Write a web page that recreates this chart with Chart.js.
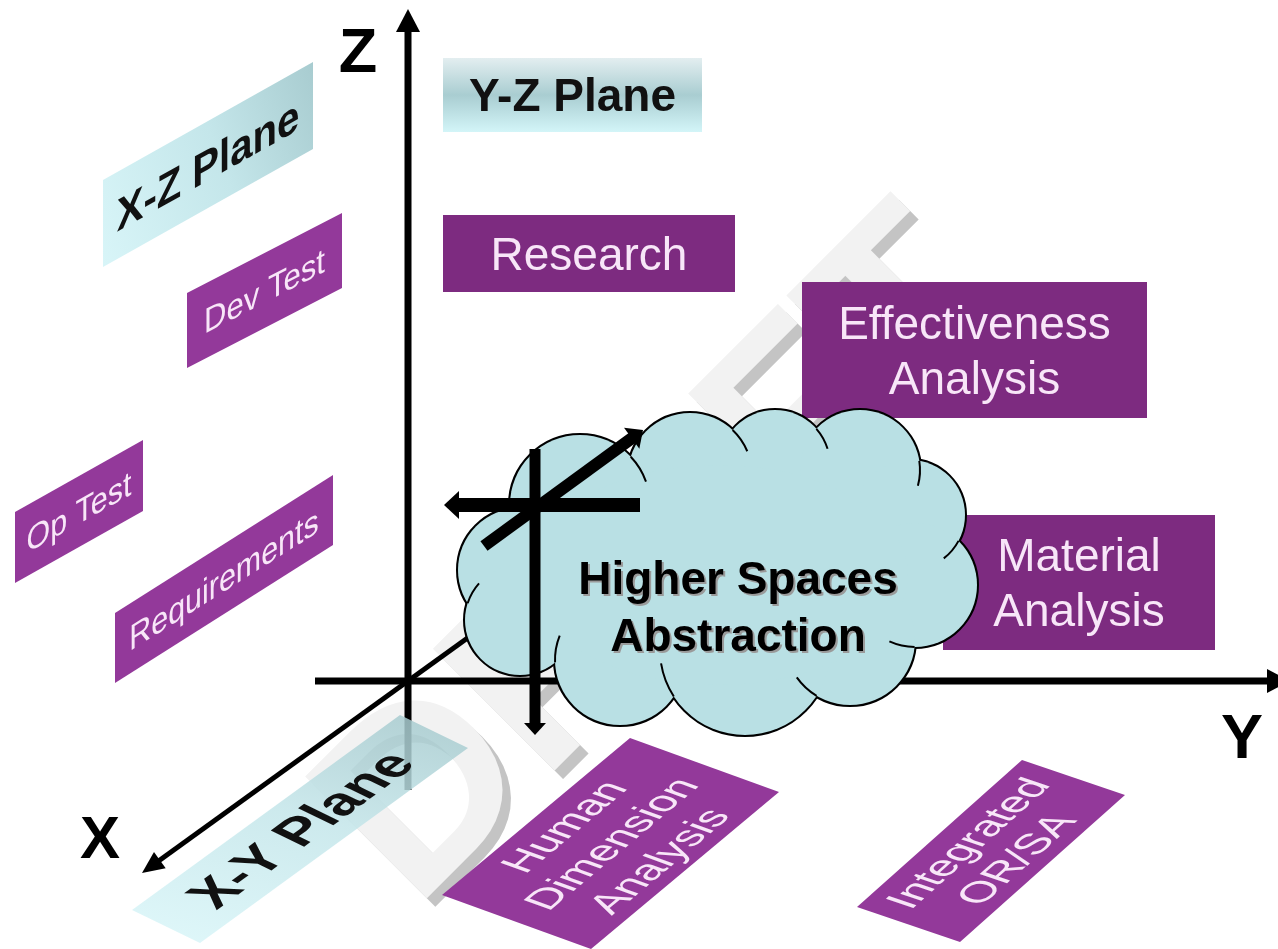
<!DOCTYPE html>
<html lang="en">
<head>
<meta charset="UTF-8">
<title>Higher Spaces Abstraction</title>
<script src="https://cdn.jsdelivr.net/npm/chart.js"></script>
<style>
  html, body { margin: 0; padding: 0; background: #fff; }
  #wrap { position: relative; width: 1278px; height: 949px; }
</style>
</head>
<body>
<div id="wrap"><canvas id="diagram"></canvas></div>
<script>
// The diagram sits on a 1278 x 949 grid, y growing downward
const gridWidth = 1278;
const gridHeight = 949;

// Main axes: where each shaft starts, where its arrow tip is, where its letter goes
const axisNames = ['Z', 'Y', 'X'];
const axisStart = [[408, 790], [315, 681], [480, 629]];
const axisTip = [[408, 9], [1290, 681], [142, 873]];
const axisNameAt = [[358, 72], [1242, 758], [100, 858]];

// Panels: text, one corner, the edge the text runs along, the edge across it
const panelText = ['Y-Z Plane', 'X-Z Plane', 'X-Y Plane', 'Research', 'Effectiveness\nAnalysis',
  'Material\nAnalysis', 'Dev Test', 'Op Test', 'Requirements', 'Human\nDimension\nAnalysis', 'Integrated\nOR/SA'];
const panelCorner = [[443, 58], [103, 180], [132, 910], [443, 215], [802, 282],
  [943, 515], [187, 293], [15, 512], [115, 613], [442, 895], [857, 907]];
const panelAlong = [[259, 0], [210, -118], [268, -195], [292, 0], [345, 0],
  [272, 0], [155, -80], [128, -72], [218, -138], [188, -157], [165, -147]];
const panelAcross = [[0, 74], [0, 87], [68, 33], [0, 77], [0, 136],
  [0, 135], [0, 75], [0, 71], [0, 70], [149, 54], [103, 35]];

// Cloud: lobes [cx, cy, r] going clockwise, and the core ellipse [cx, cy, rx, ry]
const cloudLobes = [[520, 570, 62], [580, 505, 70], [690, 475, 62], [775, 465, 55], [860, 470, 60],
  [910, 515, 55], [915, 585, 62], [850, 640, 65], [745, 650, 85], [620, 660, 65], [520, 620, 55]];
const cloudCore = [718, 575, 190, 110];
const cloudText = ['Higher Spaces', 'Abstraction'];
const cloudTextAt = [[738, 594], [738, 651]];

// Small axis icon inside the cloud: [from, tip]
const iconFrom = [[535, 449], [640, 505], [484, 546]];
const iconTip = [[535, 735], [444, 505], [643, 430]];

const watermark = 'DRAFT';
const watermarkAt = [415, 910];

const FONT = '"Liberation Sans", Arial, Helvetica, sans-serif';

// styles
const axisWidth = [7, 7, 5];
const axisHead = [[23, 12], [23, 12], [22, 10]];
const iconWidth = [11, 14, 12];
const iconHead = [[12, 11], [15, 14], [14, 13]];
const panelFont = [46, 46, 54, 46, 46, 46, 35, 35, 36, 42, 42];

function shaftEnd(from, tip, headLen) {
  const dx = tip[0] - from[0], dy = tip[1] - from[1];
  const d = Math.hypot(dx, dy);
  return { x: tip[0] - dx / d * (headLen - 2), y: tip[1] - dy / d * (headLen - 2) };
}

function arrowHead(ctx, from, tip, len, half) {
  const dx = tip.x - from.x, dy = tip.y - from.y, d = Math.hypot(dx, dy);
  const ux = dx / d, uy = dy / d;
  const bx = tip.x - ux * len, by = tip.y - uy * len;
  ctx.beginPath();
  ctx.moveTo(tip.x, tip.y);
  ctx.lineTo(bx - uy * half, by + ux * half);
  ctx.lineTo(bx + uy * half, by - ux * half);
  ctx.closePath();
  ctx.fill();
}

// outer crossing point of two lobes (the one farther from the cloud centre)
function lobeJoin(a, b, centre) {
  const dx = b.c.x - a.c.x, dy = b.c.y - a.c.y, d = Math.hypot(dx, dy);
  if (d >= a.r + b.r || d <= Math.abs(a.r - b.r)) return null;
  const k = (a.r * a.r - b.r * b.r + d * d) / (2 * d);
  const h = Math.sqrt(a.r * a.r - k * k);
  const mx = a.c.x + k * dx / d, my = a.c.y + k * dy / d;
  const p1 = { x: mx - h * dy / d, y: my + h * dx / d };
  const p2 = { x: mx + h * dy / d, y: my - h * dx / d };
  const d1 = Math.hypot(p1.x - centre.x, p1.y - centre.y);
  const d2 = Math.hypot(p2.x - centre.x, p2.y - centre.y);
  return d1 > d2 ? p1 : p2;
}

const diagramPlugin = {
  id: 'diagram',
  beforeDatasetsDraw(chart) {
    const { ctx, scales: { x: xs, y: ys } } = chart;
    const p = { x: xs.getPixelForValue(watermarkAt[0]), y: ys.getPixelForValue(watermarkAt[1]) };
    // watermark
    ctx.save();
    ctx.translate(p.x, p.y);
    ctx.rotate(-Math.PI / 4);
    ctx.font = 'bold 250px ' + FONT;
    ctx.textAlign = 'left';
    ctx.textBaseline = 'alphabetic';
    ctx.fillStyle = '#c4c4c4';
    ctx.fillText(watermark, 0, 12);
    ctx.fillStyle = '#f2f2f2';
    ctx.fillText(watermark, 0, 0);
    ctx.restore();
  },
  afterDatasetsDraw(chart) {
    const { ctx, scales: { x: xs, y: ys } } = chart;
    const px = (x, y) => ({ x: xs.getPixelForValue(x), y: ys.getPixelForValue(y) });
    const len = r => Math.abs(xs.getPixelForValue(r) - xs.getPixelForValue(0));

    // axis arrow heads
    ctx.save();
    ctx.fillStyle = '#000';
    axisNames.forEach((n, i) => {
      arrowHead(ctx, px(...axisStart[i]), px(...axisTip[i]), axisHead[i][0], axisHead[i][1]);
    });
    ctx.restore();

    // panels
    panelText.forEach((txt, i) => {
      const [cx, cy] = panelCorner[i];
      const o = px(cx, cy);
      const a = px(cx + panelAlong[i][0], cy + panelAlong[i][1]);
      const b = px(cx + panelAcross[i][0], cy + panelAcross[i][1]);
      const ux = a.x - o.x, uy = a.y - o.y, vx = b.x - o.x, vy = b.y - o.y;
      const lu = Math.hypot(ux, uy), lv = Math.hypot(vx, vy);
      const isPlane = i < 3;
      ctx.save();
      ctx.transform(ux / lu, uy / lu, vx / lv, vy / lv, o.x, o.y);
      if (isPlane) {
        let g;
        if (i === 0) {
          g = ctx.createLinearGradient(0, 0, 0, lv);
          g.addColorStop(0, '#e3eef0');
          g.addColorStop(0.5, '#a9cdd1');
          g.addColorStop(1, '#d3f5f8');
        } else {
          g = ctx.createLinearGradient(0, lv, lu, 0);
          g.addColorStop(0, '#d8f5f8');
          g.addColorStop(0.55, '#c4e6ea');
          g.addColorStop(1, '#a8ccd0');
        }
        ctx.globalAlpha = i === 2 ? 0.85 : 1;
        ctx.fillStyle = g;
        ctx.fillRect(0, 0, lu, lv);
        ctx.globalAlpha = 1;
        ctx.fillStyle = '#111';
        ctx.font = 'bold ' + panelFont[i] + 'px ' + FONT;
      } else {
        const upright = panelAlong[i][1] === 0 && panelAcross[i][0] === 0;
        ctx.fillStyle = upright ? '#7d2b80' : '#93399a';
        ctx.fillRect(0, 0, lu, lv);
        ctx.fillStyle = '#f8e6f8';
        ctx.font = panelFont[i] + 'px ' + FONT;
      }
      ctx.textAlign = 'center';
      ctx.textBaseline = 'alphabetic';
      const lines = txt.split('\n');
      const lh = panelFont[i] * 1.2;
      const top = lv / 2 - (lines.length - 1) * lh / 2;
      lines.forEach((ln, k) => {
        ctx.fillText(ln, lu / 2, top + k * lh + panelFont[i] * 0.35);
      });
      ctx.restore();
    });

    // cloud: stroke every lobe, then fill them all so only the outer rim stays
    const shapes = cloudLobes.map(l => ({ c: px(l[0], l[1]), r: len(l[2]) }));
    const core = { c: px(cloudCore[0], cloudCore[1]), rx: len(cloudCore[2]), ry: len(cloudCore[3]) };
    ctx.save();
    ctx.lineWidth = 4;
    ctx.strokeStyle = '#000';
    shapes.forEach(s => { ctx.beginPath(); ctx.arc(s.c.x, s.c.y, s.r, 0, Math.PI * 2); ctx.stroke(); });
    ctx.fillStyle = '#b9e0e4';
    shapes.forEach(s => { ctx.beginPath(); ctx.arc(s.c.x, s.c.y, s.r, 0, Math.PI * 2); ctx.fill(); });
    ctx.beginPath();
    ctx.ellipse(core.c.x, core.c.y, core.rx, core.ry, 0, 0, Math.PI * 2);
    ctx.fill();
    // short inner arcs where one lobe runs into the next
    ctx.lineWidth = 2;
    shapes.forEach((s, i) => {
      const nxt = shapes[(i + 1) % shapes.length];
      const j = lobeJoin(s, nxt, core.c);
      if (!j) return;
      const t = Math.atan2(j.y - s.c.y, j.x - s.c.x);
      ctx.beginPath();
      ctx.arc(s.c.x, s.c.y, s.r, t, t + 0.42);
      ctx.stroke();
    });
    ctx.restore();

    // icon axes on the cloud
    ctx.save();
    ctx.strokeStyle = '#000';
    ctx.fillStyle = '#000';
    ctx.lineCap = 'butt';
    iconFrom.forEach((f, i) => {
      const from = px(...f);
      const e = shaftEnd(f, iconTip[i], iconHead[i][0]);
      const end = px(e.x, e.y);
      ctx.lineWidth = iconWidth[i];
      ctx.beginPath();
      ctx.moveTo(from.x, from.y);
      ctx.lineTo(end.x, end.y);
      ctx.stroke();
      arrowHead(ctx, from, px(...iconTip[i]), iconHead[i][0], iconHead[i][1]);
    });
    ctx.restore();

    // cloud text
    ctx.save();
    ctx.font = 'bold 46px ' + FONT;
    ctx.textAlign = 'center';
    ctx.textBaseline = 'alphabetic';
    cloudText.forEach((t, i) => {
      const p = px(...cloudTextAt[i]);
      ctx.fillStyle = '#9a9a9a';
      ctx.fillText(t, p.x + 2, p.y + 2);
      ctx.fillStyle = '#000';
      ctx.fillText(t, p.x, p.y);
    });
    ctx.restore();

    // axis letters
    ctx.save();
    ctx.fillStyle = '#000';
    ctx.textAlign = 'center';
    ctx.textBaseline = 'alphabetic';
    axisNames.forEach((n, i) => {
      const p = px(...axisNameAt[i]);
      ctx.font = 'bold ' + (i === 2 ? 60 : 63) + 'px ' + FONT;
      ctx.fillText(n, p.x, p.y);
    });
    ctx.restore();
  }
};

const ctx = document.getElementById('diagram').getContext('2d');
const diagram = new Chart(ctx, {
  type: 'scatter',
  data: {
    datasets: axisNames.map((name, i) => ({
      label: name + ' axis',
      data: [{ x: axisStart[i][0], y: axisStart[i][1] }, shaftEnd(axisStart[i], axisTip[i], axisHead[i][0])],
      showLine: true,
      borderColor: '#000',
      borderWidth: axisWidth[i],
      borderCapStyle: 'butt',
      pointRadius: 0,
      tension: 0,
      clip: false
    }))
  },
  options: {
    responsive: true,
    maintainAspectRatio: false,
    animation: false,
    layout: { padding: 0 },
    plugins: { legend: { display: false }, tooltip: { enabled: false } },
    events: [],
    scales: {
      x: { type: 'linear', min: 0, max: gridWidth, display: false },
      y: { type: 'linear', min: 0, max: gridHeight, reverse: true, display: false }
    }
  },
  plugins: [diagramPlugin]
});
</script>
</body>
</html>
